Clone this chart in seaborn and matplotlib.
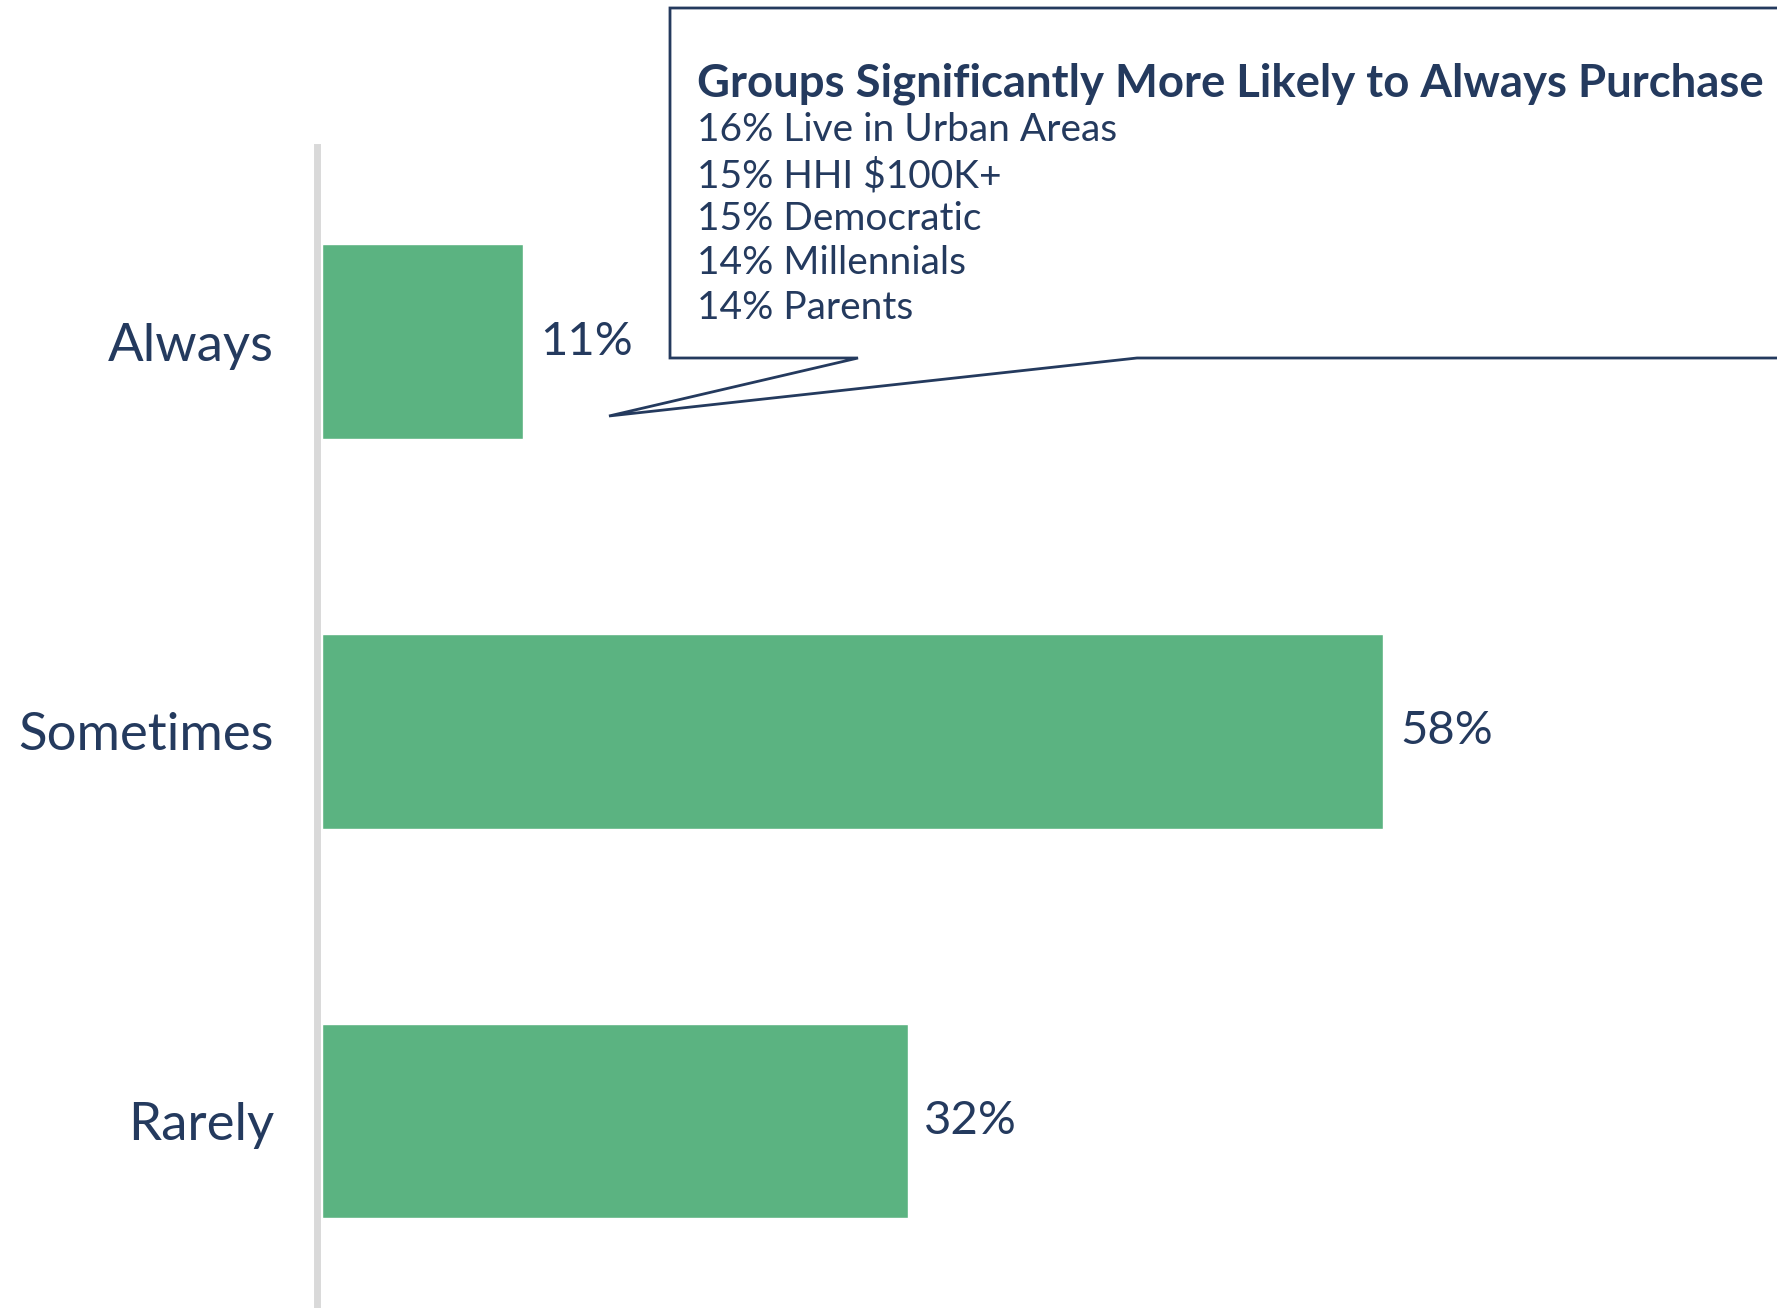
import matplotlib
matplotlib.use("Agg")
import matplotlib.pyplot as plt
import seaborn as sns
import pandas as pd
from matplotlib.patches import Polygon

categories = ["Always", "Sometimes", "Rarely"]
values = [11, 58, 32]
value_labels = ["11%", "58%", "32%"]
callout_title = "Groups Significantly More Likely to Always Purchase"
callout_lines = ["16% Live in Urban Areas", "15% HHI $100K+", "15% Democratic",
                 "14% Millennials", "14% Parents"]

sns.set_theme(style="white")
plt.rcParams['font.family'] = ['Lato', 'DejaVu Sans']

W, H = 1777, 1308
fig = plt.figure(figsize=(W / 100, H / 100), dpi=100)
NAVY = "#243a5e"
GREEN = "#5bb381"

ax_left, ax_right = 322, W
ax = fig.add_axes([ax_left / W, 0, (ax_right - ax_left) / W, 1 - 147 / H])

df = pd.DataFrame({"cat": categories, "val": values})
sns.barplot(data=df, x="val", y="cat", ax=ax, color=GREEN, width=0.5,
            saturation=1, orient="h")
ax.set_xlim(0, (ax_right - ax_left) / 18.3)
ax.set_ylim(2.48, -0.5)
ax.set_xlabel("")
ax.set_ylabel("")
ax.set_xticks([])
for s in ["top", "right", "bottom"]:
    ax.spines[s].set_visible(False)
ax.spines["left"].set_color("#d9d9d9")
ax.spines["left"].set_linewidth(5)
ax.spines["left"].set_position(("outward", 3.5))
ax.tick_params(axis="y", length=0, pad=31, labelsize=38, labelcolor=NAVY)

for i, (v, lab) in enumerate(zip(values, value_labels)):
    ax.text(v + 0.9, i, lab, va="center", ha="left", fontsize=34, color=NAVY)

def fx(x):
    return x / W

def fy(y):
    return 1 - y / H

pts = [(670, 8), (1800, 8), (1800, 358), (1137, 358), (609, 416), (858, 358), (670, 358)]
poly = Polygon([(fx(x), fy(y)) for x, y in pts], closed=True, fill=True,
               facecolor="white", edgecolor=NAVY, linewidth=2.0,
               transform=fig.transFigure, clip_on=False)
fig.patches.append(poly)

fig.text(fx(697), fy(84), callout_title, fontsize=32.8, fontweight="bold",
         color=NAVY, va="center", ha="left")
ys = [130, 176, 219, 263, 308]
for y, line in zip(ys, callout_lines):
    fig.text(fx(697), fy(y), line, fontsize=28, color=NAVY, va="center", ha="left")

fig.savefig("out.png", dpi=100, facecolor="white")
